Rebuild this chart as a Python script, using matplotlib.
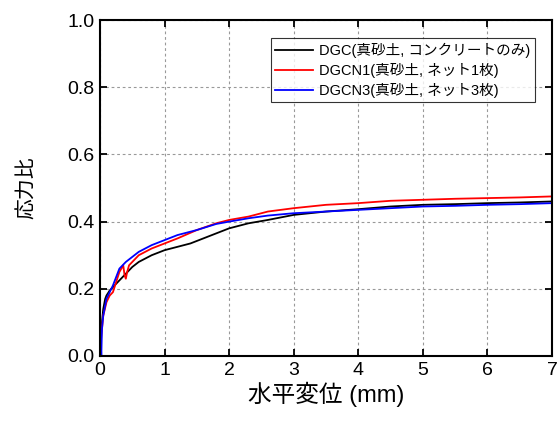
import matplotlib
matplotlib.use('Agg')
import matplotlib.pyplot as plt

plt.rcParams['font.family'] = ['Liberation Sans', 'Noto Sans CJK JP', 'DejaVu Sans']

# DGC (black)
dgc_x = [0, 0.02, 0.05, 0.08, 0.1, 0.15, 0.2, 0.3, 0.4, 0.5, 0.6, 0.7, 0.8, 1.0, 1.2, 1.4,
         1.6, 1.8, 2.0, 2.3, 2.6, 3.0, 3.5, 4.0, 4.5, 5.0, 5.5, 6.0, 6.5, 7.0]
dgc_y = [0, 0.08, 0.14, 0.17, 0.18, 0.195, 0.205, 0.225, 0.245, 0.265, 0.28, 0.29, 0.30,
         0.315, 0.325, 0.335, 0.35, 0.365, 0.38, 0.395, 0.405, 0.42, 0.43, 0.437, 0.445,
         0.45, 0.452, 0.455, 0.457, 0.46]
# DGCN1 (red)
dgcn1_x = [0, 0.02, 0.05, 0.1, 0.15, 0.2, 0.3, 0.36, 0.38, 0.4, 0.42, 0.45, 0.5, 0.6, 0.7,
           0.8, 1.0, 1.2, 1.5, 1.8, 2.0, 2.3, 2.6, 3.0, 3.5, 4.0, 4.5, 5.0, 5.5, 6.0, 6.5, 7.0]
dgcn1_y = [0, 0.06, 0.12, 0.16, 0.18, 0.19, 0.25, 0.27, 0.24, 0.23, 0.25, 0.27, 0.28, 0.30,
           0.31, 0.32, 0.335, 0.35, 0.375, 0.395, 0.405, 0.415, 0.43, 0.44, 0.45, 0.455,
           0.462, 0.465, 0.468, 0.47, 0.472, 0.475]
# DGCN3 (blue)
dgcn3_x = [0, 0.01, 0.02, 0.03, 0.05, 0.1, 0.15, 0.2, 0.3, 0.4, 0.5, 0.6, 0.7, 0.8, 1.0,
           1.2, 1.5, 1.8, 2.0, 2.3, 2.6, 3.0, 3.5, 4.0, 4.5, 5.0, 5.5, 6.0, 6.5, 7.0]
dgcn3_y = [0, 0.05, 0.0, 0.08, 0.12, 0.17, 0.19, 0.21, 0.26, 0.28, 0.295, 0.31, 0.32, 0.33,
           0.345, 0.36, 0.375, 0.393, 0.40, 0.41, 0.418, 0.425, 0.43, 0.435, 0.44, 0.445,
           0.447, 0.45, 0.452, 0.455]

labels = ['DGC(真砂土, コンクリートのみ)', 'DGCN1(真砂土, ネット1枚)', 'DGCN3(真砂土, ネット3枚)']

fig = plt.figure(figsize=(5.6, 4.36), dpi=100)
ax = fig.add_axes([0.1786, 0.1835, 0.8071, 0.7705])

ax.plot(dgc_x, dgc_y, color='black', lw=1.3, label=labels[0])
ax.plot(dgcn1_x, dgcn1_y, color='red', lw=1.3, label=labels[1])
ax.plot(dgcn3_x, dgcn3_y, color='blue', lw=1.3, label=labels[2])

ax.set_xlim(0, 7); ax.set_ylim(0, 1.0)
ax.set_xticks(range(0, 8))
ax.set_yticks([0, 0.2, 0.4, 0.6, 0.8, 1.0])
ax.set_yticklabels(['0.0', '0.2', '0.4', '0.6', '0.8', '1.0'])
ax.grid(True, color='#999999', linestyle=(0, (2.5, 2.5)), linewidth=0.8)
ax.tick_params(direction='in', length=5, width=1.3, top=True, right=True, labelsize=14, pad=4)
for s in ax.spines.values():
    s.set_linewidth(1.5)

ax.set_xlabel('水平変位 (mm)', fontsize=17, labelpad=2)
ax.set_ylabel('応力比', fontsize=15, labelpad=22)

leg = ax.legend(loc='upper right', bbox_to_anchor=(0.962, 0.946), fontsize=10.5, frameon=True,
                fancybox=False, edgecolor='black', handlelength=2.6, borderpad=0.3,
                labelspacing=0.35, handletextpad=0.4, borderaxespad=0)
leg.get_frame().set_linewidth(0.8)

fig.savefig('out.png', dpi=100)
